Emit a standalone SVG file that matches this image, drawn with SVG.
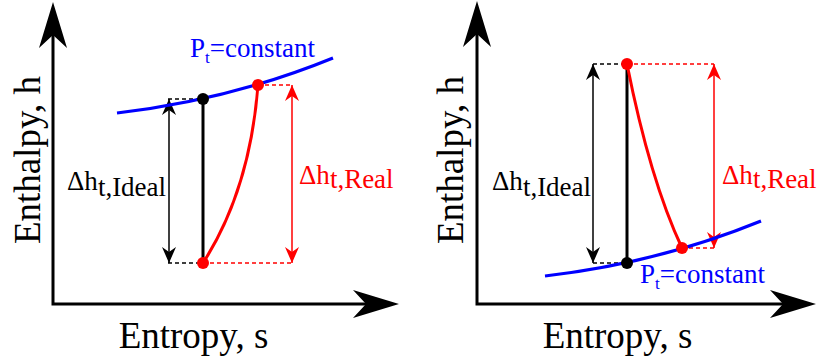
<svg xmlns="http://www.w3.org/2000/svg" width="817" height="364" viewBox="0 0 817 364">
<style>
.ax{fill:none;stroke:#000;stroke-width:3;marker-start:url(#axh);marker-end:url(#axh)}
.iso{fill:none;stroke:#0000ff;stroke-width:3.2}
.real{fill:none;stroke:#ff0000;stroke-width:3}
.ideal{fill:none;stroke:#000;stroke-width:3}
.dk{stroke:#000;stroke-width:1.3;stroke-dasharray:4 3}
.dr{stroke:#ff0000;stroke-width:1.3;stroke-dasharray:4 3}
.ak{stroke:#000;stroke-width:1.5;marker-start:url(#hk);marker-end:url(#hk)}
.ar{stroke:#ff0000;stroke-width:1.5;marker-start:url(#hr);marker-end:url(#hr)}
text{font-family:"Liberation Serif","Times New Roman",serif}
.lbl{font-size:37px;fill:#000}
.dh{font-size:27px}
.pt{font-size:27px;fill:#0000ff}
</style>
<defs>
<marker id="axh" markerUnits="userSpaceOnUse" viewBox="0 0 46 28" markerWidth="46" markerHeight="28" refX="20" refY="14" orient="auto-start-reverse"><path d="M0,0 L46,14 L0,28 L13,14 Z" fill="#000"/></marker>
<marker id="hk" markerUnits="userSpaceOnUse" viewBox="0 0 16 14" markerWidth="16" markerHeight="14" refX="16" refY="7" orient="auto-start-reverse"><path d="M0,0 L16,7 L0,14 L5,7 Z" fill="#000"/></marker>
<marker id="hr" markerUnits="userSpaceOnUse" viewBox="0 0 16 14" markerWidth="16" markerHeight="14" refX="16" refY="7" orient="auto-start-reverse"><path d="M0,0 L16,7 L0,14 L5,7 Z" fill="#ff0000"/></marker>
</defs>

<g id="left-panel">
  <g id="left-axes">
    <path class="ax" d="M53,28 L53,304 L373,304"/>
    <text class="lbl" transform="translate(39.5,160) rotate(-90)" text-anchor="middle">Enthalpy, h</text>
    <text class="lbl" x="193.5" y="348" text-anchor="middle">Entropy, s</text>
  </g>
  <g id="left-connectors">
    <line class="dk" x1="168" y1="99" x2="203" y2="99"/>
    <line class="dk" x1="168" y1="263" x2="203" y2="263"/>
    <line class="dr" x1="258" y1="85" x2="292" y2="85"/>
    <line class="dr" x1="203" y1="263" x2="292" y2="263"/>
    <line class="ak" x1="169" y1="99" x2="169" y2="263"/>
    <line class="ar" x1="292" y1="85" x2="292" y2="263"/>
  </g>
  <g id="left-isobar">
    <path class="iso" d="M117,113 Q230,100 333,58"/>
    <text class="pt" x="190" y="57">P<tspan font-size="17" dy="6">t</tspan><tspan dy="-6">=constant</tspan></text>
  </g>
  <g id="left-process">
    <line class="ideal" x1="203" y1="99" x2="203" y2="263"/>
    <path class="real" d="M203,263 Q250,190 258,85"/>
  </g>
  <g id="left-labels">
    <text class="dh" x="67" y="190" fill="#000">Δh<tspan dy="6">t,Ideal</tspan></text>
    <text class="dh" x="299" y="184" fill="#ff0000">Δh<tspan dy="4">t,Real</tspan></text>
  </g>
  <g id="left-points">
    <circle cx="203" cy="99" r="6" fill="#000"/>
    <circle cx="258" cy="85" r="6" fill="#ff0000"/>
    <circle cx="203" cy="263" r="6" fill="#ff0000"/>
  </g>
</g>

<g id="right-panel">
  <g id="right-axes">
    <path class="ax" d="M477,27 L477,304 L790,304"/>
    <text class="lbl" transform="translate(463,160) rotate(-90)" text-anchor="middle">Enthalpy, h</text>
    <text class="lbl" x="617.5" y="348" text-anchor="middle">Entropy, s</text>
  </g>
  <g id="right-connectors">
    <line class="dk" x1="593" y1="64" x2="627" y2="64"/>
    <line class="dk" x1="593" y1="263" x2="627" y2="263"/>
    <line class="dr" x1="627" y1="64" x2="714" y2="64"/>
    <line class="dr" x1="682" y1="248" x2="714" y2="248"/>
    <line class="ak" x1="593" y1="64" x2="593" y2="263"/>
    <line class="ar" x1="714" y1="64" x2="714" y2="248"/>
  </g>
  <g id="right-isobar">
    <path class="iso" d="M545,276 Q658,263 761,221"/>
    <text class="pt" x="640" y="283">P<tspan font-size="17" dy="6">t</tspan><tspan dy="-6">=constant</tspan></text>
  </g>
  <g id="right-process">
    <line class="ideal" x1="627" y1="64" x2="627" y2="263"/>
    <path class="real" d="M627,64 Q650,180 682,248"/>
  </g>
  <g id="right-labels">
    <text class="dh" x="492" y="190" fill="#000">Δh<tspan dy="6">t,Ideal</tspan></text>
    <text class="dh" x="722" y="184" fill="#ff0000">Δh<tspan dy="4">t,Real</tspan></text>
  </g>
  <g id="right-points">
    <circle cx="627" cy="64" r="6" fill="#ff0000"/>
    <circle cx="627" cy="263" r="6" fill="#000"/>
    <circle cx="682" cy="248" r="6" fill="#ff0000"/>
  </g>
</g>
</svg>
